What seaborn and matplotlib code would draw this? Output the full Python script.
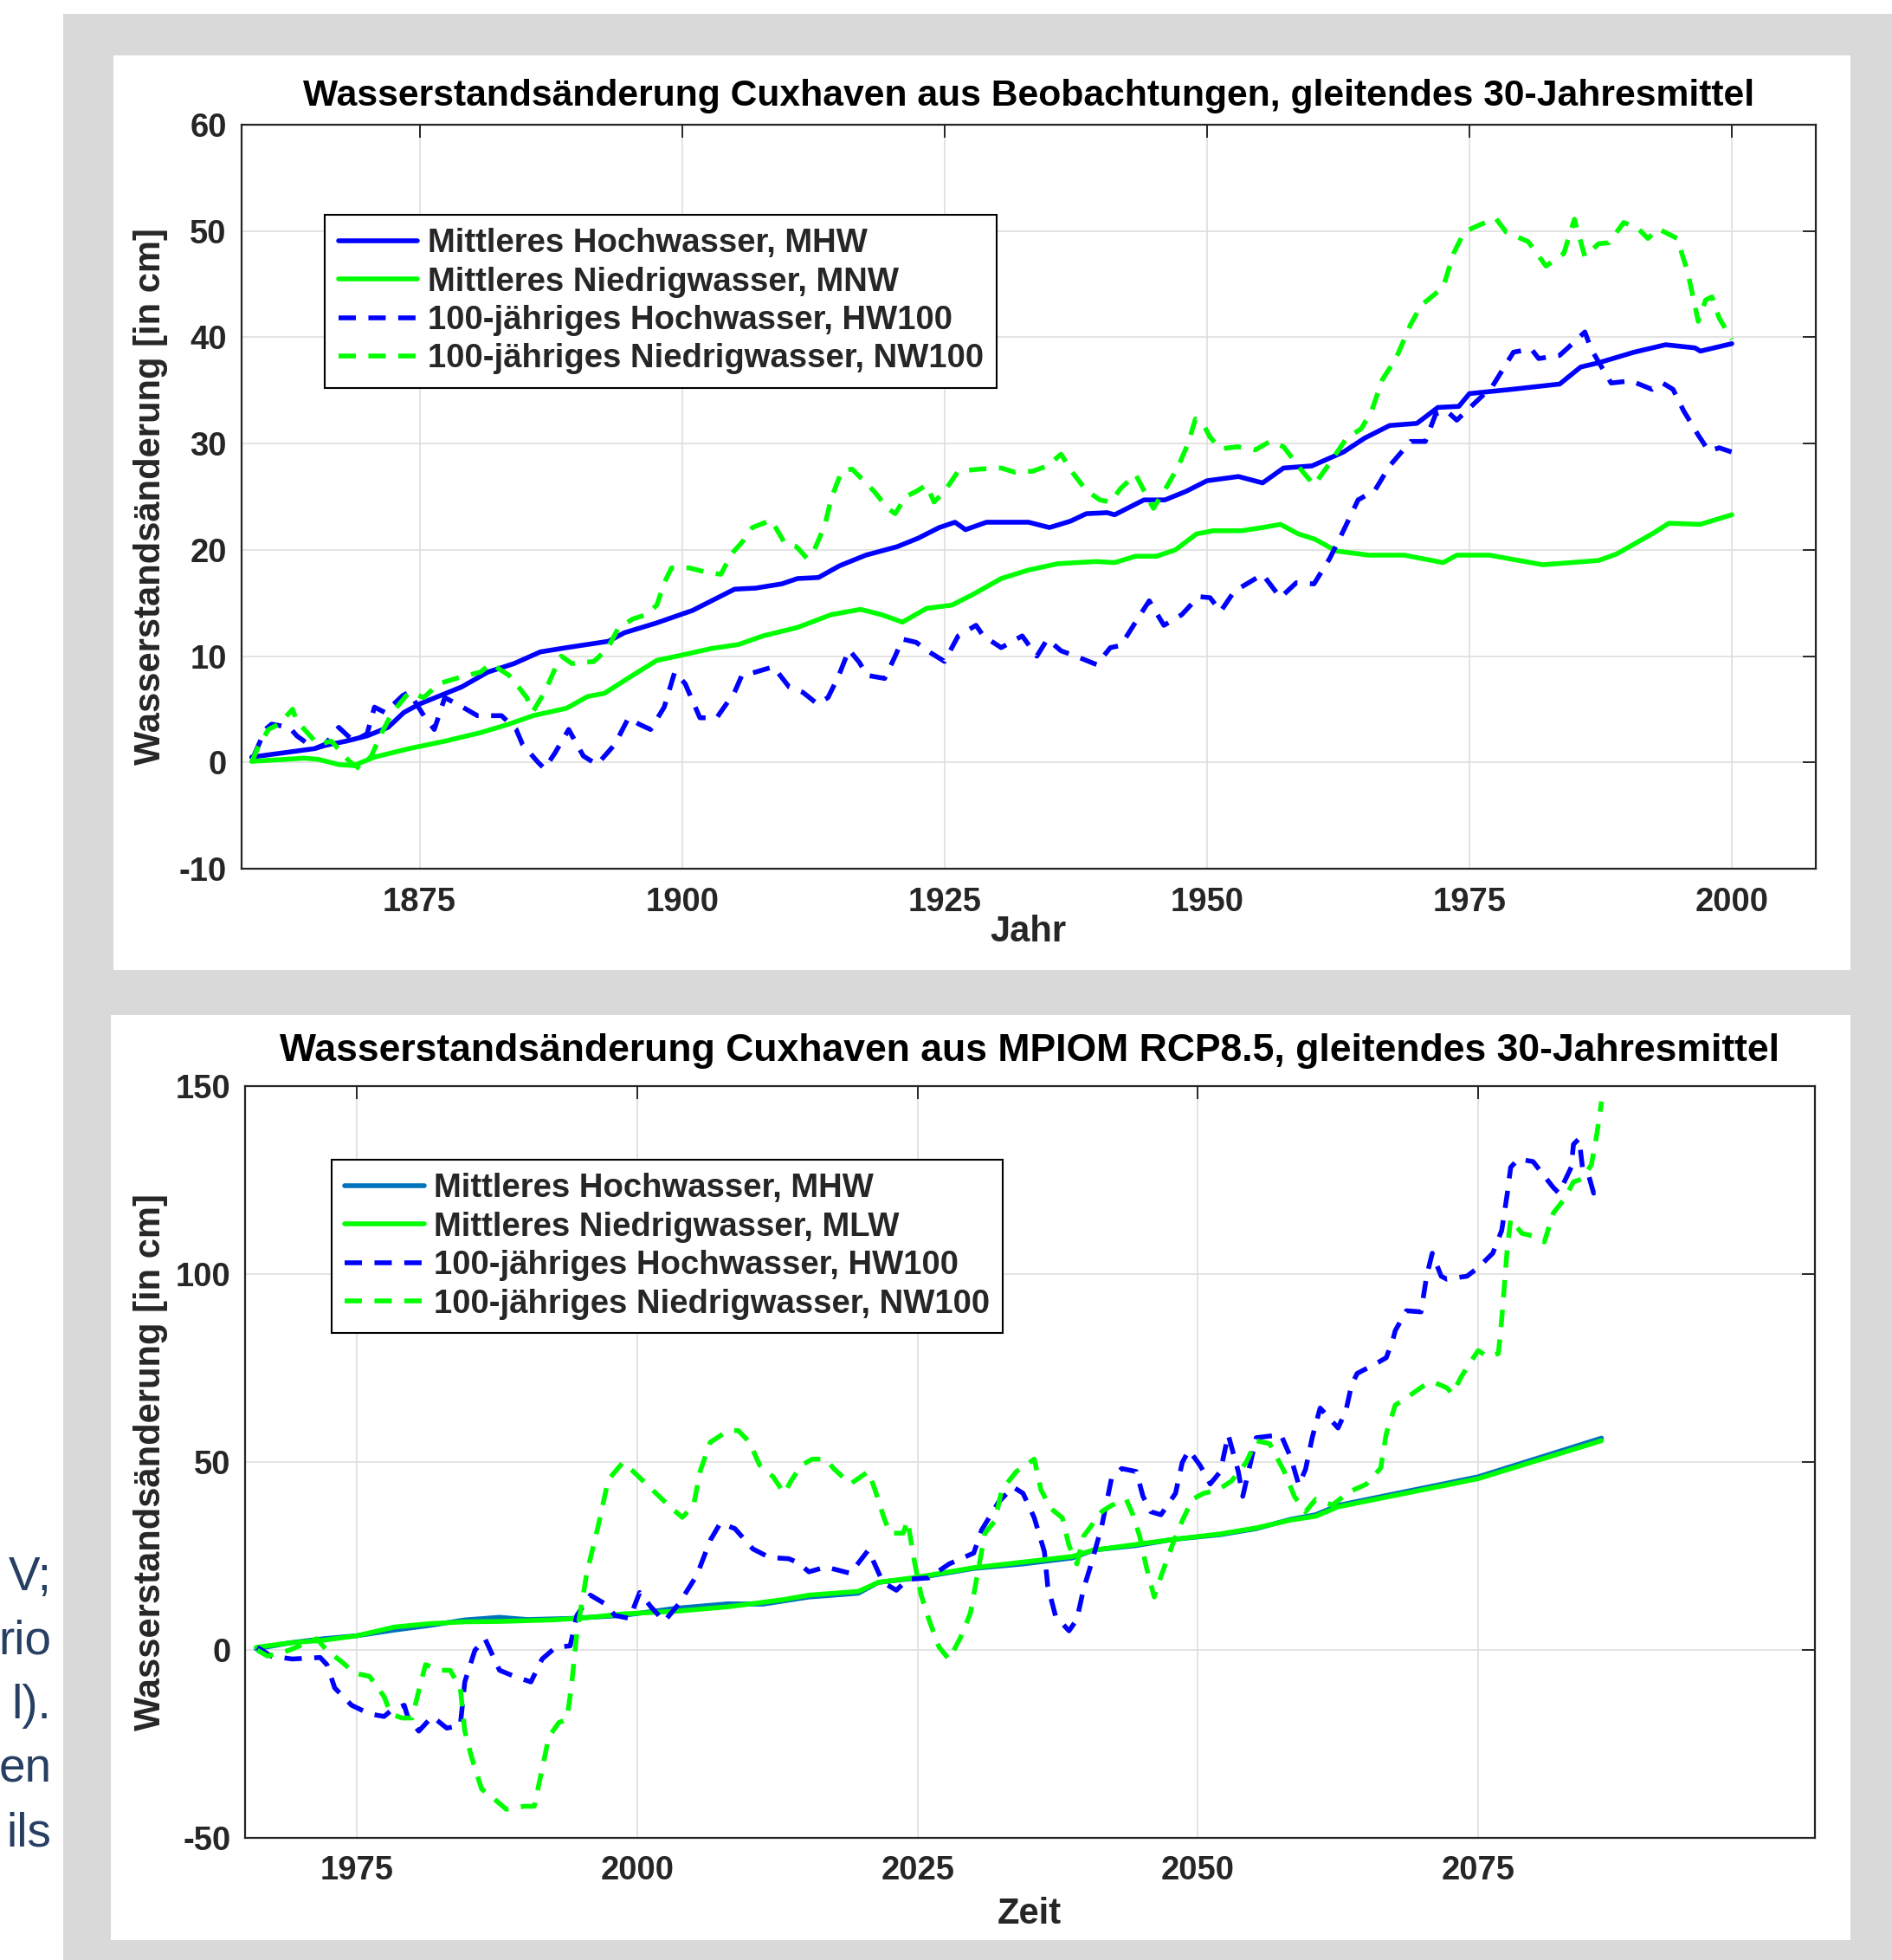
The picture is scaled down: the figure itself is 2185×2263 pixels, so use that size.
import matplotlib
matplotlib.use("Agg")
import matplotlib.pyplot as plt
from matplotlib.patches import Rectangle
import seaborn as sns

# ---- data: observations (Cuxhaven, moving 30-year mean) ----
obs_mhw_year = [1859, 1862, 1865, 1866, 1868, 1870, 1872, 1873.5, 1875, 1876.5, 1879, 1881.5, 1884, 1886.5,
                1889, 1893, 1894.5, 1897.5, 1901, 1905, 1907, 1909.5, 1911, 1913, 1915, 1917.5, 1920.5,
                1922.5, 1924.5, 1926, 1927, 1929, 1931, 1933, 1935, 1937, 1938.5, 1940.5, 1941.2, 1943,
                1944, 1946, 1948, 1950, 1953, 1955.3, 1957.3, 1960, 1963, 1965, 1967.4, 1970, 1972, 1974,
                1975, 1979, 1983.6, 1985.6, 1987.3, 1990.7, 1993.7, 1996.5, 1997, 2000]
obs_mhw_cm = [0.5, 0.9, 1.3, 1.6, 2.0, 2.5, 3.3, 4.7, 5.5, 6.1, 7.1, 8.5, 9.3, 10.4, 10.8, 11.4, 12.2, 13.1,
              14.3, 16.3, 16.4, 16.8, 17.3, 17.4, 18.5, 19.5, 20.3, 21.1, 22.1, 22.6, 21.9, 22.6, 22.6,
              22.6, 22.1, 22.7, 23.4, 23.5, 23.3, 24.2, 24.7, 24.7, 25.5, 26.5, 26.9, 26.3, 27.7, 27.9,
              29.2, 30.5, 31.7, 31.9, 33.4, 33.5, 34.7, 35.1, 35.6, 37.2, 37.6, 38.6, 39.3, 39.0, 38.7, 39.4]

obs_mnw_year = [1859, 1864, 1865.3, 1867.3, 1868.7, 1870.7, 1874, 1877.4, 1880.8, 1883.5, 1885.8, 1889, 1891,
                1892.6, 1895.3, 1897.6, 1900, 1902.7, 1905.4, 1907.7, 1911, 1914.2, 1917, 1919, 1921, 1923.3,
                1925.7, 1927.7, 1930.4, 1933, 1935.8, 1939.5, 1941.2, 1943.2, 1945.2, 1947, 1949, 1950.6,
                1953.3, 1955.3, 1957, 1958.7, 1960.3, 1962.3, 1965.4, 1968.8, 1972.5, 1973.8, 1976.9, 1982,
                1987.3, 1989, 1992.4, 1994, 1997, 2000]
obs_mnw_cm = [0.1, 0.4, 0.3, -0.2, -0.3, 0.5, 1.3, 2.0, 2.8, 3.6, 4.4, 5.1, 6.2, 6.5, 8.2, 9.6, 10.1, 10.7,
              11.1, 11.9, 12.7, 13.9, 14.4, 13.9, 13.2, 14.5, 14.8, 15.8, 17.3, 18.1, 18.7, 18.9, 18.8, 19.4,
              19.4, 20.0, 21.5, 21.8, 21.8, 22.1, 22.4, 21.5, 21.0, 19.9, 19.5, 19.5, 18.8, 19.5, 19.5, 18.6,
              19.0, 19.6, 21.5, 22.5, 22.4, 23.3]

obs_hw100_year = [1859.2, 1860.3, 1860.9, 1862.6, 1863.3, 1865, 1866, 1867.3, 1868.7, 1870, 1870.7, 1871.7,
                  1873.4, 1874, 1875.4, 1876.4, 1877.4, 1879.1, 1880.5, 1882.8, 1884.2, 1884.8, 1886.2, 1886.9,
                  1887.9, 1889.2, 1890.6, 1891.9, 1893.6, 1894.9, 1895.9, 1897, 1898.3, 1899.3, 1900.3, 1901.7,
                  1903.3, 1905, 1905.7, 1907, 1908.7, 1910.2, 1911.5, 1912.9, 1913.9, 1914.9, 1915.9, 1916.9,
                  1917.6, 1919.3, 1920.3, 1921, 1922.3, 1923.7, 1925, 1926.3, 1928, 1928.7, 1930.4, 1932.4,
                  1933.8, 1934.8, 1936.1, 1937.5, 1939.5, 1940.8, 1941.8, 1943.2, 1944.5, 1945.9, 1947.6,
                  1949.2, 1950.3, 1951.3, 1952.6, 1954.3, 1955.3, 1957, 1958.5, 1960.2, 1961.7, 1963, 1964.4,
                  1966, 1967.4, 1969.4, 1970.8, 1971.8, 1972.8, 1973.8, 1977.2, 1979.2, 1980.9, 1981.6,
                  1983.6, 1984.6, 1986, 1986.6, 1987.3, 1988.5, 1990.4, 1992.4, 1993.4, 1994.4, 1995.4,
                  1996.8, 1997.8, 1998.8, 2000]
obs_hw100_cm = [0.6, 3.1, 3.6, 3.3, 2.5, 1.3, 1.7, 3.3, 2.0, 2.7, 5.2, 4.7, 6.3, 6.6, 4.4, 3.1, 6.1, 5.2, 4.4,
                4.4, 3.1, 1.7, 0.1, -0.6, 0.9, 3.1, 0.6, -0.2, 1.7, 4.2, 3.6, 3.1, 5.2, 8.5, 7.4, 4.2, 4.2,
                6.6, 8.2, 8.5, 9.0, 7.1, 6.6, 5.5, 6.1, 8.1, 10.6, 9.4, 8.2, 7.9, 10.0, 11.6, 11.3, 10.3, 9.5,
                11.9, 12.9, 11.9, 10.8, 11.9, 10.0, 11.6, 10.5, 10.0, 9.2, 10.8, 11.0, 13.2, 15.2, 12.9, 13.9,
                15.6, 15.5, 14.2, 16.1, 17.1, 17.7, 15.5, 16.9, 16.8, 19.2, 21.8, 24.7, 25.6, 27.9, 30.2,
                30.2, 32.8, 33.1, 32.2, 35.4, 38.6, 38.9, 38.0, 38.3, 39.2, 40.5, 38.9, 37.7, 35.7, 35.9,
                35.1, 35.7, 35.1, 33.1, 30.8, 29.3, 29.6, 29.2]

obs_nw100_year = [1859, 1859.6, 1860.6, 1861.6, 1862.9, 1863.3, 1864.3, 1865.3, 1866.6, 1868.3, 1869.3, 1870.4,
                  1871.4, 1872.4, 1874, 1875.4, 1876.8, 1878.8, 1880.8, 1881.8, 1883.5, 1884.2, 1885.2, 1885.8,
                  1886.9, 1887.9, 1888.5, 1889.5, 1891.6, 1892.9, 1893.9, 1895.3, 1896.6, 1897.6, 1898.3, 1899,
                  1900.7, 1902.3, 1903.7, 1904.7, 1905.7, 1906.7, 1908.5, 1909.8, 1910.9, 1911.9, 1912.6,
                  1913.6, 1914.2, 1915.2, 1916.2, 1917.3, 1918.3, 1919.6, 1920.3, 1921.3, 1922.3, 1923.3, 1924,
                  1925, 1926.3, 1928.4, 1930.4, 1931.7, 1933.4, 1934.8, 1936.1, 1937.1, 1938.5, 1939.8, 1940.8,
                  1941.8, 1943.2, 1944.2, 1944.9, 1945.9, 1947.2, 1948.2, 1948.9, 1949.6, 1950.3, 1951.3,
                  1952.9, 1954.6, 1956, 1957.3, 1959, 1960.2, 1961.3, 1963.3, 1964.7, 1965.7, 1966.7, 1968,
                  1969.4, 1970.4, 1972.5, 1973.5, 1974.5, 1975.8, 1977.5, 1978.5, 1980.6, 1982.3, 1984, 1985,
                  1986, 1987.3, 1988.3, 1989.7, 1991, 1992, 1993, 1994.8, 1995.8, 1996.8, 1997.5, 1998.1,
                  1998.8, 2000]
obs_nw100_cm = [0.0, 1.4, 3.1, 3.6, 5.0, 3.9, 2.8, 1.7, 2.0, 0.1, -0.6, 0.6, 2.8, 4.7, 6.6, 6.1, 7.4, 8.0, 8.5,
                9.3, 8.2, 7.4, 6.1, 4.8, 6.6, 8.8, 10.0, 9.3, 9.5, 10.7, 12.6, 13.5, 13.9, 14.8, 16.9, 18.3,
                18.3, 17.9, 17.7, 19.6, 20.7, 22.1, 22.8, 20.6, 20.3, 19.2, 20.0, 22.3, 24.8, 27.4, 27.6,
                26.5, 25.5, 23.9, 23.4, 25.0, 25.5, 26.1, 24.5, 25.5, 27.4, 27.6, 27.7, 27.3, 27.4, 27.9,
                29.0, 27.4, 25.6, 24.7, 24.5, 25.8, 27.1, 25.2, 23.9, 25.5, 27.7, 30.0, 32.3, 31.9, 30.6,
                29.5, 29.7, 29.4, 30.2, 29.7, 27.5, 26.1, 27.6, 30.5, 31.4, 33.1, 36.0, 38.0, 41.2, 43.0,
                44.7, 47.9, 49.9, 50.5, 51.2, 49.9, 49.0, 46.7, 47.9, 51.1, 47.6, 48.8, 48.9, 50.8, 50.3,
                49.3, 50.2, 49.3, 46.1, 41.5, 43.5, 43.8, 41.8, 39.8]

# ---- data: MPIOM RCP8.5 model ----
mod_mhw_year = [1966, 1969, 1972, 1975, 1978.3, 1981.4, 1984.6, 1987.7, 1990.2, 1994, 1998.7, 2003.4, 2008.1,
                2011.2, 2015.3, 2019.7, 2021.5, 2025, 2030, 2034.4, 2038.8, 2040.7, 2044.5, 2047.7, 2052,
                2055.2, 2058.3, 2060.5, 2062.5, 2075, 2086]
mod_mhw_cm = [0.2, 1.8, 2.9, 3.7, 5.2, 6.4, 7.9, 8.6, 8.0, 8.3, 9.1, 11.0, 12.2, 12.1, 14.0, 15.0, 17.9, 19.1,
              21.6, 22.8, 24.4, 26.5, 27.7, 29.3, 30.6, 32.2, 34.7, 35.9, 38.4, 46.0, 56.3]

mod_mlw_year = [1966, 1969, 1972, 1975, 1978.3, 1981.4, 1984.6, 1987.7, 1992.4, 1995.5, 1998.7, 2003.4, 2008.1,
                2013, 2015.3, 2019.7, 2021.5, 2025, 2030, 2034.4, 2038.8, 2040.7, 2044.5, 2047.7, 2052,
                2055.2, 2058.3, 2060.5, 2062.5, 2075, 2086]
mod_mlw_cm = [0.6, 1.8, 2.5, 3.7, 6.0, 6.9, 7.4, 7.5, 7.9, 8.5, 9.5, 10.2, 11.4, 13.3, 14.5, 15.5, 17.9, 19.3,
              21.8, 23.3, 24.8, 26.5, 28.0, 29.3, 30.8, 32.4, 34.5, 35.5, 38.0, 45.5, 55.6]

mod_hw100_year = [1966.1, 1967.3, 1969.2, 1971.7, 1972.3, 1973, 1974.5, 1976.1, 1977.4, 1978, 1979.2, 1979.5,
                  1980.5, 1981.7, 1983, 1984.2, 1984.6, 1985.5, 1986.4, 1987.7, 1989, 1990.5, 1991.5, 1992.7,
                  1994, 1994.6, 1995.8, 1997.1, 1998, 1999.3, 2000.2, 2001.2, 2002.4, 2003.7, 2005.3, 2006.5,
                  2007.4, 2008.7, 2010.3, 2011.8, 2013.5, 2014.3, 2015.3, 2016.8, 2019, 2020.6, 2021.9,
                  2023.1, 2024.1, 2026, 2027.8, 2030, 2030.7, 2032.2, 2033.5, 2034.4, 2035.4, 2036.3, 2036.6,
                  2037.3, 2038.5, 2039.2, 2039.8, 2040.4, 2041.4, 2042.3, 2043.2, 2044.5, 2045.1, 2045.8,
                  2046.7, 2048, 2048.6, 2049.2, 2050.2, 2051.1, 2052, 2052.7, 2053.6, 2054, 2055.2, 2057.4,
                  2058.3, 2059, 2059.6, 2060.2, 2060.9, 2062.5, 2063.2, 2063.7, 2064.2, 2066.1, 2066.8,
                  2067.4, 2067.6, 2068.6, 2069.9, 2070.4, 2070.9, 2071.7, 2072.2, 2074, 2075, 2076.3, 2077.1,
                  2077.6, 2077.9, 2078.6, 2079.9, 2080.7, 2081.7, 2082.2, 2083.3, 2083.5, 2084, 2084.3,
                  2084.8, 2085.3, 2085.6]
mod_hw100_cm = [0.6, -1.7, -2.5, -2.1, -4.0, -10.2, -14.8, -17.1, -17.8, -16.3, -14.8, -17.8, -21.7, -17.8,
                -20.9, -20.2, -8.6, -0.2, 2.9, -5.5, -7.1, -8.6, -2.5, 0.6, 1.0, 9.1, 14.5, 12.2, 9.1, 8.3,
                15.2, 11.4, 7.5, 12.2, 19.8, 29.1, 33.7, 32.2, 26.8, 24.5, 24.2, 23.2, 20.7, 22.0, 20.3, 26.5,
                17.9, 15.8, 18.7, 19.1, 22.8, 25.7, 31.8, 39.2, 43.3, 41.6, 35.1, 26.1, 17.0, 8.9, 5.0, 8.0,
                16.2, 22.0, 32.6, 45.7, 48.2, 47.4, 40.8, 36.7, 35.9, 41.6, 49.8, 53.1, 49.0, 44.1, 47.4,
                57.2, 47.4, 40.8, 56.4, 57.2, 51.0, 43.8, 48.0, 56.5, 64.3, 59.0, 63.6, 70.4, 73.5, 76.5,
                77.7, 82.6, 84.9, 90.2, 89.9, 99.4, 105.5, 99.4, 98.6, 99.4, 101.7, 105.5, 111.6, 121.5,
                128.4, 130.6, 129.9, 126.8, 123.0, 121.5, 128.4, 134.5, 136.0, 128.4, 126.8, 121.5, 123.8]

mod_nw100_year = [1966.1, 1967, 1968.9, 1971.4, 1972.3, 1973.6, 1974.8, 1976.1, 1977.4, 1978, 1979, 1979.9,
                  1980.5, 1981.1, 1982.4, 1983.3, 1984.2, 1984.6, 1985.2, 1986.1, 1987.4, 1988.3, 1989.9,
                  1990.8, 1991.5, 1992.1, 1993, 1993.7, 1994.1, 1994.6, 1995.5, 1996.5, 1997.4, 1998.7,
                  1999.6, 2001.2, 2003.1, 2004, 2005, 2005.6, 2006.5, 2008.1, 2009, 2010, 2010.9, 2012.1,
                  2013.1, 2013.7, 2014.6, 2015.6, 2016.8, 2017.5, 2019, 2020.6, 2021.2, 2021.9, 2022.5,
                  2023.7, 2024.1, 2024.7, 2025.3, 2026, 2026.9, 2027.8, 2028.8, 2029.7, 2030.3, 2031, 2031.9,
                  2032.5, 2033.8, 2035.4, 2036, 2036.9, 2037.9, 2038.5, 2039.2, 2039.8, 2040.4, 2041.4,
                  2042.3, 2043.6, 2044.2, 2044.8, 2045.4, 2046.1, 2046.7, 2047.7, 2048.6, 2049.5, 2050.5,
                  2051.8, 2053, 2054.3, 2055.2, 2056.4, 2057.7, 2058.6, 2059.6, 2060.5, 2062, 2063.5, 2065,
                  2066.3, 2066.8, 2067.6, 2068.4, 2070.2, 2071, 2072.2, 2072.7, 2073.5, 2074.3, 2075, 2075.8,
                  2076.8, 2077.1, 2077.4, 2077.6, 2077.9, 2078.9, 2079.9, 2080.9, 2081.7, 2082.7, 2083.5,
                  2084.3, 2085.1, 2085.6, 2086]
mod_nw100_cm = [-0.2, -1.7, -0.2, 2.9, -0.2, -3.2, -6.3, -7.1, -12.5, -17.1, -18.2, -18.2, -10.9, -4.0, -5.5,
                -5.5, -10.2, -21.7, -28.6, -37.1, -40.2, -42.5, -41.7, -41.7, -31.7, -23.2, -19.4, -18.6,
                -10.2, 4.5, 20.6, 32.9, 45.2, 49.8, 47.5, 42.9, 37.5, 35.2, 38.3, 47.5, 55.2, 58.3, 58.3,
                55.2, 49.1, 46.0, 41.6, 44.9, 49.0, 50.7, 50.7, 48.2, 44.1, 47.4, 42.5, 35.9, 31.0, 31.0,
                34.3, 23.6, 14.6, 8.0, 0.7, -2.6, 3.1, 9.7, 19.5, 31.0, 34.3, 42.5, 47.4, 50.7, 42.5, 37.5,
                35.1, 27.7, 22.8, 30.2, 32.6, 36.7, 38.4, 40.0, 35.9, 30.2, 22.0, 14.0, 19.5, 27.7, 34.3,
                40.0, 41.6, 42.5, 44.9, 49.8, 55.6, 54.8, 47.4, 40.8, 36.7, 40.0, 38.5, 42.0, 44.0, 48.3,
                57.5, 65.1, 66.6, 70.4, 71.2, 69.7, 68.1, 72.7, 76.5, 79.6, 78.0, 78.8, 88.0, 99.4, 107.0,
                114.6, 110.8, 110.1, 108.5, 116.2, 120.0, 124.5, 125.3, 129.1, 137.5, 145.9]

side_text_lines = ["V;", "rio", "l).", "en", "ils"]

W, H = 2185, 2263
BLUE = "#0000ff"
GREEN = "#00ff00"
MBLUE = "#0072bd"
DASH = (0, (3.6, 2.6))
LW = 4.0

sns.set_theme(style="white")
plt.rcParams["font.family"] = ["Liberation Sans", "DejaVu Sans"]
plt.rcParams["font.weight"] = "bold"
plt.rcParams["axes.unicode_minus"] = False

fig = plt.figure(figsize=(W / 100, H / 100), dpi=100, facecolor="white")


def px_rect(x0, y0, x1, y1, color, z):
    fig.add_artist(Rectangle((x0 / W, 1 - y1 / H), (x1 - x0) / W, (y1 - y0) / H,
                             transform=fig.transFigure, facecolor=color,
                             edgecolor="none", zorder=z))


# slide background
px_rect(73, 16, W, H, "#d9d9d9", -10)
px_rect(131, 64, 2137, 1120, "white", -9)
px_rect(128, 1172, 2137, 2240, "white", -9)
px_rect(0, 1753, 73, 2240, "white", -9)
for i, line in enumerate(side_text_lines):
    fig.text(59.5 / W, 1 - (1836 + 74 * i) / H, line, ha="right", va="baseline",
             fontsize=39.5, fontweight="normal", color="#263f63")


def make_axes(rect, series, xlim, ylim, xticks, yticks, title, title_size, xlabel, tpad,
              xlab_y, ylab_x, leg_anchor):
    ax = fig.add_axes(rect)
    for xs, ys, color, ls, label in series:
        sns.lineplot(x=xs, y=ys, ax=ax, color=color, linestyle=ls, linewidth=LW,
                     label=label, sort=False, estimator=None)
    ax.set_xlim(*xlim)
    ax.set_ylim(*ylim)
    ax.set_xticks(xticks)
    ax.set_yticks(yticks)
    ax.grid(True, color="#dedede", linewidth=1.2)
    ax.set_axisbelow(True)
    ax.tick_params(direction="in", length=11, width=1.4, top=True, right=True,
                   labelsize=27.5, colors="#262626", labelcolor="#262626")
    ax.tick_params(axis="x", pad=15)
    ax.tick_params(axis="y", pad=12)
    for s in ax.spines.values():
        s.set_color("#262626")
        s.set_linewidth(1.6)
    ax.set_title(title, fontsize=title_size, fontweight="bold", pad=tpad, color="black")
    ax.set_xlabel(xlabel, fontsize=30, fontweight="bold", color="#262626")
    ax.set_ylabel("Wasserstandsänderung [in cm]", fontsize=30, fontweight="bold", color="#262626")
    ax.xaxis.set_label_coords(0.5, xlab_y)
    ax.xaxis.label.set_va("top")
    ax.yaxis.set_label_coords(ylab_x, 0.5)
    leg = ax.legend(loc="upper left", bbox_to_anchor=leg_anchor, borderaxespad=0,
                    fontsize=27.5, handlelength=2.4, handletextpad=0.3, borderpad=0.4,
                    labelspacing=0.22, fancybox=False, framealpha=1, edgecolor="black")
    leg.get_frame().set_linewidth(1.5)
    for t in leg.get_texts():
        t.set_fontweight("bold")
    return ax


obs_series = [
    (obs_mhw_year, obs_mhw_cm, BLUE, "-", "Mittleres Hochwasser, MHW"),
    (obs_mnw_year, obs_mnw_cm, GREEN, "-", "Mittleres Niedrigwasser, MNW"),
    (obs_hw100_year, obs_hw100_cm, BLUE, DASH, "100-jähriges Hochwasser, HW100"),
    (obs_nw100_year, obs_nw100_cm, GREEN, DASH, "100-jähriges Niedrigwasser, NW100"),
]
make_axes([278.5 / W, 1 - 1003 / H, (2097 - 278.5) / W, (1003 - 144) / H], obs_series,
          (1858, 2008), (-10, 60), [1875, 1900, 1925, 1950, 1975, 2000], list(range(-10, 61, 10)),
          "Wasserstandsänderung Cuxhaven aus Beobachtungen, gleitendes 30-Jahresmittel", 30.7, "Jahr",
          16, -0.062, -0.0465, (0.0533, 0.879))

mod_series = [
    (mod_mhw_year, mod_mhw_cm, MBLUE, "-", "Mittleres Hochwasser, MHW"),
    (mod_mlw_year, mod_mlw_cm, GREEN, "-", "Mittleres Niedrigwasser, MLW"),
    (mod_hw100_year, mod_hw100_cm, BLUE, DASH, "100-jähriges Hochwasser, HW100"),
    (mod_nw100_year, mod_nw100_cm, GREEN, DASH, "100-jähriges Niedrigwasser, NW100"),
]
make_axes([283 / W, 1 - 2121.5 / H, (2095.5 - 283) / W, (2121.5 - 1254) / H], mod_series,
          (1965, 2105), (-50, 150), [1975, 2000, 2025, 2050, 2075], [-50, 0, 50, 100, 150],
          "Wasserstandsänderung Cuxhaven aus MPIOM RCP8.5, gleitendes 30-Jahresmittel", 32, "Zeit",
          21, -0.079, -0.049, (0.055, 0.902))

fig.savefig("out.png", dpi=100, facecolor="white")
